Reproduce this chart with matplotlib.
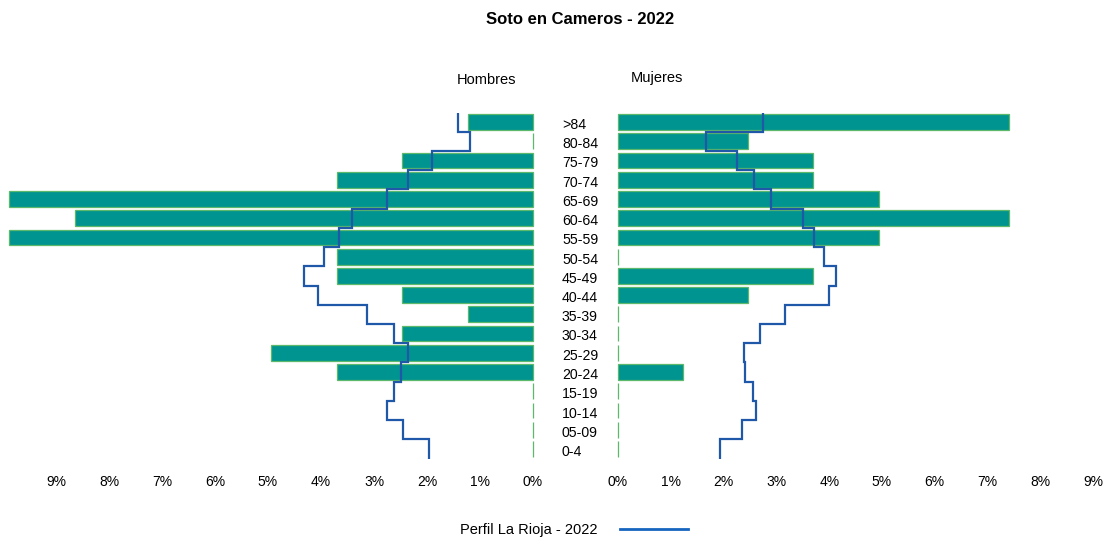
import matplotlib
matplotlib.use("Agg")
import matplotlib.pyplot as plt
import numpy as np

plt.rcParams['font.family'] = ['Liberation Sans', 'DejaVu Sans']

ages = ["0-4", "05-09", "10-14", "15-19", "20-24", "25-29", "30-34", "35-39",
        "40-44", "45-49", "50-54", "55-59", "60-64", "65-69", "70-74", "75-79",
        "80-84", ">84"]
men = [0, 0, 0, 0, 3.70, 4.94, 2.47, 1.23, 2.47, 3.70, 3.70, 9.88, 8.64, 9.88,
       3.70, 2.47, 0, 1.23]
women = [0, 0, 0, 0, 1.23, 0, 0, 0, 2.47, 3.70, 0, 4.94, 7.41, 4.94, 3.70, 3.70,
         2.47, 7.41]
rioja_men = [1.97, 2.46, 2.76, 2.62, 2.49, 2.36, 2.62, 3.14, 4.05, 4.32, 3.94,
             3.66, 3.41, 2.76, 2.36, 1.91, 1.19, 1.42]
rioja_women = [1.93, 2.35, 2.61, 2.56, 2.41, 2.39, 2.69, 3.16, 4.00, 4.13, 3.91,
               3.71, 3.50, 2.89, 2.57, 2.26, 1.67, 2.75]
ticks = [9, 8, 7, 6, 5, 4, 3, 2, 1, 0]
title = "Soto en Cameros - 2022"
legend_label = "Perfil La Rioja - 2022"

W, H = 1107, 537
fig = plt.figure(figsize=(W / 100, H / 100), dpi=100)

bar_color = "#009490"
edge_color = "#5cb86a"
line_color = "#1f58a8"

top_px, bot_px = 112.5, 458.5
y0 = 1 - bot_px / H
hgt = (bot_px - top_px) / H

# left axes: 0 at 533 px, 53 px per %
axL = fig.add_axes([3 / W, y0, 530 / W, hgt])
axR = fig.add_axes([618 / W, y0, 52.8 * 9.2 / W, hgt])

y = np.arange(len(ages))
for ax, vals, prof, xmax in [(axL, men, rioja_men, 10.0), (axR, women, rioja_women, 9.2)]:
    bars = ax.barh(y, vals, height=0.82, color=bar_color, edgecolor=edge_color, linewidth=0.9)
    for b in bars:
        b.set_clip_on(False)
    # step line profile
    xs, ys = [], []
    for i, v in enumerate(prof):
        xs += [v, v]
        ys += [i - 0.5, i + 0.5]
    ax.plot(xs, ys, color=line_color, linewidth=1.6, solid_joinstyle='miter')
    ax.set_ylim(-0.5, len(ages) - 0.5)
    ax.set_xlim(0, xmax)
    ax.set_yticks([])
    ax.set_xticks(ticks)
    ax.set_xticklabels([f"{t}%" for t in ticks], fontsize=10)
    ax.tick_params(axis='x', length=0, pad=12)
    for s in ax.spines.values():
        s.set_visible(False)
    ax.patch.set_alpha(0)
axL.invert_xaxis()

# age labels
for i, a in enumerate(ages):
    fig.text(562 / W, 1 - (449 - i * 19.25 + 3) / H, a, ha='left', va='center', fontsize=10.2)

fig.text(580 / W, 1 - 19 / H, title, ha='center', va='center', fontsize=12, fontweight='bold')
fig.text(487 / W, 1 - 80 / H, "Hombres", ha='center', va='center', fontsize=10.5)
fig.text(657 / W, 1 - 78 / H, "Mujeres", ha='center', va='center', fontsize=10.5)

# legend
fig.text(598 / W, 1 - 530 / H, legend_label, ha='right', va='center', fontsize=10.5)
fig.add_artist(plt.Line2D([620 / W, 688 / W], [1 - 529 / H, 1 - 529 / H],
                          color="#1565c0", linewidth=2, transform=fig.transFigure))

fig.savefig("out.png", dpi=100)
